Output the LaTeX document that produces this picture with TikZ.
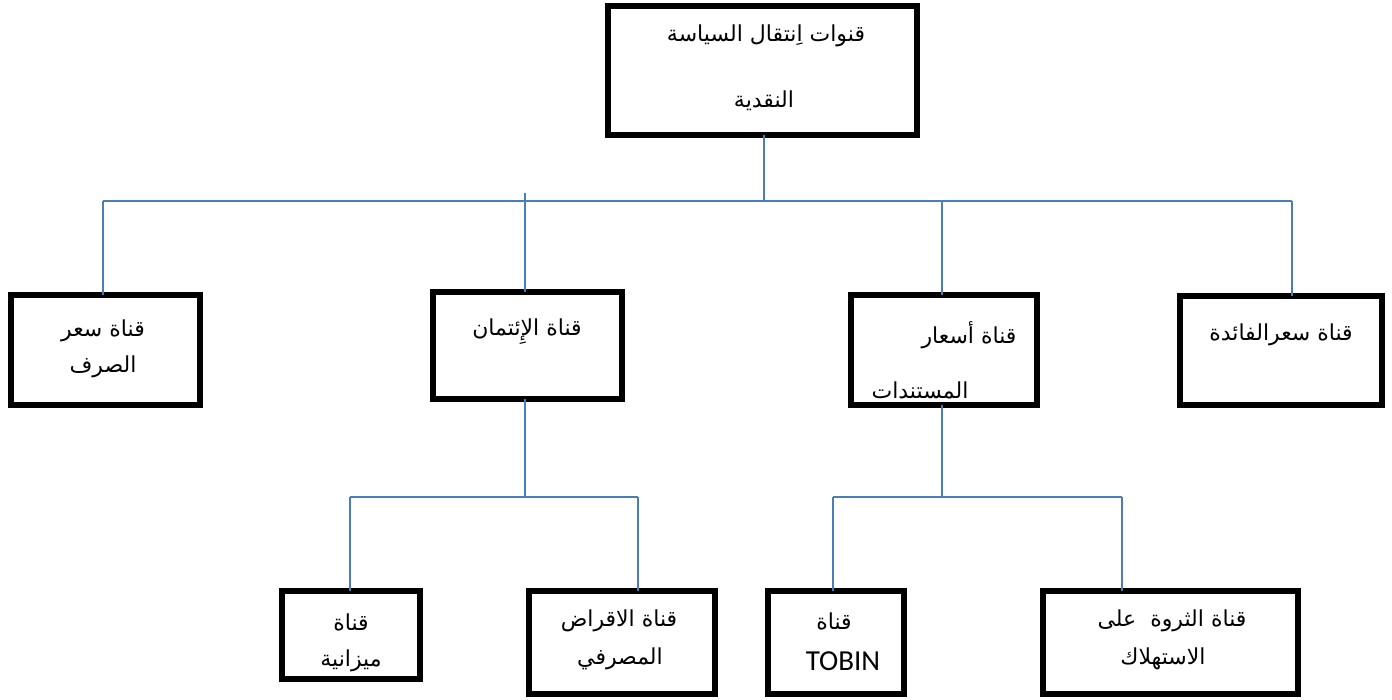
\documentclass[tikz,border=0pt]{standalone}
\usepackage{fontspec}
\TeXXeTstate=1
\newfontfamily\arfont[Script=Arabic]{DejaVu Sans}
\newfontfamily\tobinfont{Carlito}
\definecolor{linkblue}{HTML}{4A7EBB}
\tikzset{
  box/.style={draw=black, line width=6pt, rectangle, inner sep=0pt, outer sep=0pt, fill=white},
  link/.style={draw=linkblue, line width=1.6pt},
  lbl/.style={inner sep=0pt, font=\arfont\fontsize{22}{26}\selectfont, anchor=center},
}
\begin{document}
\begin{tikzpicture}[x=1pt,y=-1pt]
\useasboundingbox (0,0) rectangle (1392,699);
% boxes
\node[box, minimum width=309pt, minimum height=129pt] (top) at (762.5,70.5) {};
\node[box, minimum width=189pt, minimum height=110pt] (exch) at (105.5,350) {};
\node[box, minimum width=189pt, minimum height=107pt] (cred) at (527.5,345.5) {};
\node[box, minimum width=186pt, minimum height=110pt] (asset) at (944,350) {};
\node[box, minimum width=202pt, minimum height=109pt] (inter) at (1281,350.5) {};
\node[box, minimum width=138pt, minimum height=88pt] (bal) at (351,635) {};
\node[box, minimum width=186pt, minimum height=103pt] (lend) at (622,642.5) {};
\node[box, minimum width=136pt, minimum height=103pt] (tobin) at (836,642.5) {};
\node[box, minimum width=255pt, minimum height=103pt] (wealth) at (1170.5,642.5) {};
% junction coordinates
\coordinate (busL) at (103,201);
\coordinate (busR) at (1292,201);
\coordinate (jtop) at (764,201);
\coordinate (jcred) at (525,193);
\coordinate (jasset) at (942,201);
\coordinate (k1L) at (350,497);
\coordinate (k1R) at (638,497);
\coordinate (k1) at (525,497);
\coordinate (k2L) at (833,497);
\coordinate (k2R) at (1122,497);
\coordinate (k2) at (942,497);
% connectors
\draw[link] (top.south -| jtop) -- (jtop);
\draw[link] (busL) -- (busR);
\draw[link] (busL) -- (exch.north -| busL);
\draw[link] (jcred) -- (cred.north -| jcred);
\draw[link] (jasset) -- (asset.north -| jasset);
\draw[link] (busR) -- (inter.north -| busR);
\draw[link] (cred.south -| k1) -- (k1);
\draw[link] (k1L) -- (k1R);
\draw[link] (k1L) -- (bal.north -| k1L);
\draw[link] (k1R) -- (lend.north -| k1R);
\draw[link] (asset.south -| k2) -- (k2);
\draw[link] (k2L) -- (k2R);
\draw[link] (k2L) -- (tobin.north -| k2L);
\draw[link] (k2R) -- (wealth.north -| k2R);
% labels
\node[lbl] (tTop1) at (766,36) {\beginR قنوات اِنتقال السياسة\endR};
\node[lbl] (tTop2) at (764,101) {\beginR النقدية\endR};
\node[lbl] (tEx1) at (103,331) {\beginR قناة سعر\endR};
\node[lbl] (tEx2) at (103,367) {\beginR الصرف\endR};
\node[lbl] (tCr1) at (527,332) {\beginR قناة الإِئتمان\endR};
\node[lbl] (tAs1) at (969,335) {\beginR قناة أسعار\endR};
\node[lbl] (tAs2) at (920,390) {\beginR المستندات\endR};
\node[lbl] (tIn1) at (1281,335) {\beginR قناة سعرالفائدة\endR};
\node[lbl] (tBa1) at (351,622) {\beginR قناة\endR};
\node[lbl] (tBa2) at (351,661) {\beginR ميزانية\endR};
\node[lbl] (tLe1) at (619,621) {\beginR قناة الاقراض\endR};
\node[lbl] (tLe2) at (620,659) {\beginR المصرفي\endR};
\node[lbl] (tTo1) at (834,621) {\beginR قناة\endR};
\node[inner sep=0pt, font=\tobinfont\fontsize{29}{32}\selectfont] (tTo2) at (843,661) {TOBIN};
\node[lbl] (tWe1) at (1172,621) {\beginR قناة الثروة\ \ على\endR};
\node[lbl] (tWe2) at (1163,659) {\beginR الاستهلاك\endR};
\end{tikzpicture}
\end{document}
